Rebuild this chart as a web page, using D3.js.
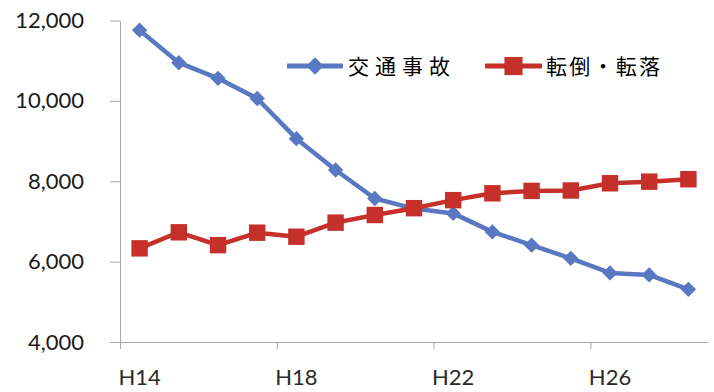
<!DOCTYPE html>
<html>
<head>
<meta charset="utf-8">
<script src="https://cdn.jsdelivr.net/npm/d3@7/dist/d3.min.js"></script>
<style>
  html, body { margin: 0; padding: 0; background: #ffffff; }
  svg { display: block; }
</style>
</head>
<body>
<svg id="chart" width="714" height="392"></svg>
<script>
// Fiscal years (Heisei era)
const years = ["H14", "H15", "H16", "H17", "H18", "H19", "H20", "H21",
               "H22", "H23", "H24", "H25", "H26", "H27", "H28"];
// 交通事故 (traffic accidents)
const trafficAccidents = [11760, 10950, 10560, 10060, 9060, 8280, 7570, 7320,
                          7200, 6740, 6410, 6080, 5720, 5670, 5310];
// 転倒・転落 (falls)
const falls = [6330, 6730, 6410, 6720, 6620, 6970, 7160, 7330,
               7530, 7700, 7760, 7770, 7950, 7990, 8050];
const seriesNames = ["交通事故", "転倒・転落"];
const yTicks = [4000, 6000, 8000, 10000, 12000];
const xTickLabels = ["H14", "H18", "H22", "H26"];

const blue = "#5878C2";
const red = "#C6302A";
const axisColor = "#A8A8A8";

const svg = d3.select("#chart");

const x = d3.scaleBand().domain(years).range([120, 708]).paddingInner(0).paddingOuter(0);
const y = d3.scaleLinear().domain([4000, 12000]).range([342, 20.5]);
const cx = d => x(d) + x.bandwidth() / 2;

// Y axis
const yAxis = d3.axisLeft(y)
  .tickValues(yTicks)
  .tickSize(10)
  .tickSizeOuter(0)
  .tickPadding(26)
  .tickFormat(d3.format(","));

const gy = svg.append("g").attr("transform", "translate(120,0)").call(yAxis);
gy.select(".domain").attr("stroke", axisColor);
gy.selectAll(".tick line").attr("stroke", axisColor);
gy.selectAll(".tick text")
  .attr("fill", "#1a1a1a")
  .style("font-family", "Lato, 'Open Sans', sans-serif")
  .style("font-size", "22px");

// X axis: labels centred in the category, tick marks on category boundaries
const xAxis = d3.axisBottom(x)
  .tickValues(xTickLabels)
  .tickSize(0)
  .tickSizeOuter(0)
  .tickPadding(27.5);

const gx = svg.append("g").attr("transform", "translate(0,342)").call(xAxis);
gx.select(".domain").attr("stroke", axisColor);
gx.selectAll(".tick text")
  .attr("fill", "#2a2a2a")
  .style("font-family", "Lato, 'Open Sans', sans-serif")
  .style("font-size", "22px");

gx.selectAll(".boundary")
  .data(xTickLabels)
  .join("line")
  .attr("class", "boundary")
  .attr("x1", d => x(d) + 0.5).attr("x2", d => x(d) + 0.5)
  .attr("y1", 0).attr("y2", 7)
  .attr("stroke", axisColor);

// Series
const line = d3.line()
  .x((d, i) => cx(years[i]))
  .y(d => y(d));

const diamond = d3.symbol(d3.symbolSquare, 118);
const square = d3.symbol(d3.symbolSquare, 270);

svg.append("path")
  .datum(trafficAccidents)
  .attr("d", line)
  .attr("fill", "none")
  .attr("stroke", blue)
  .attr("stroke-width", 4.5)
  .attr("stroke-linejoin", "round");

svg.append("path")
  .datum(falls)
  .attr("d", line)
  .attr("fill", "none")
  .attr("stroke", red)
  .attr("stroke-width", 4.5)
  .attr("stroke-linejoin", "round");

svg.append("g").selectAll("path")
  .data(trafficAccidents)
  .join("path")
  .attr("d", diamond)
  .attr("transform", (d, i) => `translate(${cx(years[i])},${y(d)}) rotate(45)`)
  .attr("fill", blue);

svg.append("g").selectAll("path")
  .data(falls)
  .join("path")
  .attr("d", square)
  .attr("transform", (d, i) => `translate(${cx(years[i])},${y(d)})`)
  .attr("fill", red);

// Legend
const legend = svg.append("g");
const legendItems = [
  { name: seriesNames[0], color: blue, x0: 287, x1: 343, textX: 348, textW: 102, marker: "diamond" },
  { name: seriesNames[1], color: red, x0: 485, x1: 542, textX: 546, textW: 114, marker: "square" }
];
const ly = 66;
legendItems.forEach(it => {
  legend.append("line")
    .attr("x1", it.x0).attr("x2", it.x1)
    .attr("y1", ly).attr("y2", ly)
    .attr("stroke", it.color).attr("stroke-width", 5);
  const mx = (it.x0 + it.x1) / 2;
  if (it.marker === "diamond") {
    legend.append("path")
      .attr("d", d3.symbol(d3.symbolSquare, 150))
      .attr("transform", `translate(${mx},${ly}) rotate(45)`)
      .attr("fill", it.color);
  } else {
    legend.append("path")
      .attr("d", d3.symbol(d3.symbolSquare, 330))
      .attr("transform", `translate(${mx},${ly})`)
      .attr("fill", it.color);
  }
  legend.append("text")
    .attr("x", it.textX).attr("y", ly + 8)
    .attr("textLength", it.textW)
    .attr("lengthAdjust", "spacing")
    .attr("fill", "#000")
    .style("font-family", "'Noto Sans CJK JP', sans-serif")
    .style("font-size", "21px")
    .text(it.name);
});
</script>
</body>
</html>
